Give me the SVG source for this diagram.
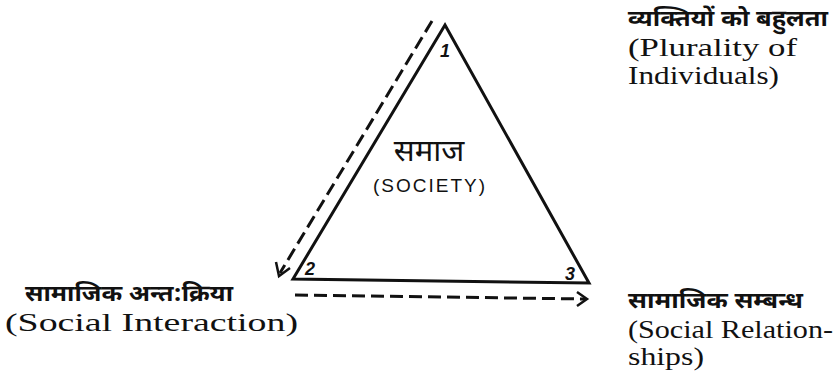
<svg xmlns="http://www.w3.org/2000/svg" width="840" height="383" viewBox="0 0 840 383">
<defs>
<style>
.en{font-family:"Liberation Serif","DejaVu Serif",serif;font-size:26px;fill:#111}
.hi{font-family:"Noto Sans Devanagari","Noto Sans","DejaVu Sans",sans-serif;font-size:23px;fill:#111;font-weight:bold}
.num{font-family:"Liberation Sans","DejaVu Sans",sans-serif;font-size:18px;font-weight:bold;font-style:italic;fill:#111}
.edge{fill:none;stroke:#111;stroke-width:3;stroke-linejoin:miter}
.dash{fill:none;stroke:#111;stroke-width:3;stroke-dasharray:13,6}
.head{fill:none;stroke:#111;stroke-width:2.5}
</style>
</defs>
<rect width="840" height="383" fill="#fff"/>
<g id="triangle">
<polygon class="edge" points="445,25 293,279 589,283"/>
<text class="num" x="440" y="57">1</text>
<text class="num" x="305" y="275">2</text>
<text class="num" x="565" y="280">3</text>
<text class="hi" x="429" y="161" text-anchor="middle" style="font-size:31px;font-weight:normal">समाज</text>
<text x="430" y="192" text-anchor="middle" style="font-family:'Liberation Sans','DejaVu Sans',sans-serif;font-size:19px;fill:#111;letter-spacing:2px">(SOCIETY)</text>
</g>
<g id="node-plurality">
<text class="hi" x="628" y="26" textLength="200" lengthAdjust="spacingAndGlyphs">व्यक्तियों को बहुलता</text>
<text class="en" x="628" y="56" textLength="169" lengthAdjust="spacingAndGlyphs">(Plurality of</text>
<text class="en" x="628" y="84" textLength="151" lengthAdjust="spacingAndGlyphs">Individuals)</text>
</g>
<g id="node-interaction">
<text class="hi" x="25" y="301" textLength="208" lengthAdjust="spacingAndGlyphs">सामाजिक अन्त:क्रिया</text>
<text class="en" x="5" y="331" textLength="293" lengthAdjust="spacingAndGlyphs">(Social Interaction)</text>
</g>
<g id="node-relationships">
<text class="hi" x="628" y="308" textLength="175" lengthAdjust="spacingAndGlyphs">सामाजिक सम्बन्ध</text>
<text class="en" x="628" y="338" textLength="205" lengthAdjust="spacingAndGlyphs">(Social Relation-</text>
<text class="en" x="628" y="365" textLength="76" lengthAdjust="spacingAndGlyphs">ships)</text>
</g>
<g id="connectors">
<line class="dash" x1="432" y1="21" x2="280" y2="273"/>
<polyline class="head" points="276,262 279,276 290,268"/>
<line class="dash" x1="295" y1="295" x2="585" y2="299"/>
<polyline class="head" points="577,292 587,299 577,306"/>
</g>
</svg>
